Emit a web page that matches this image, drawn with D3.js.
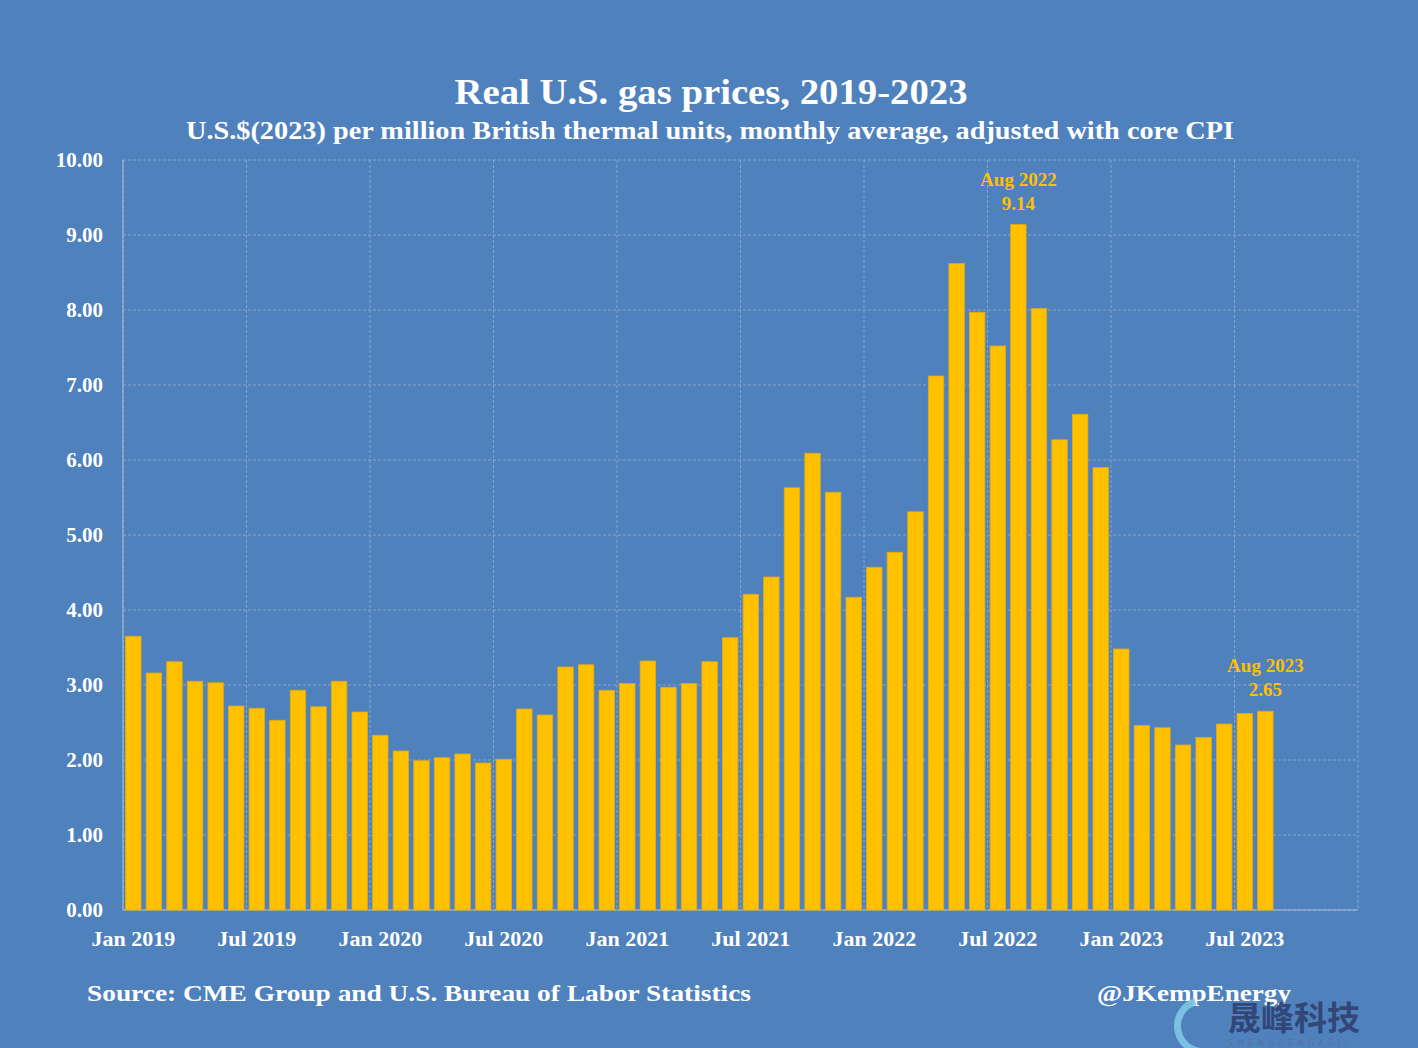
<!DOCTYPE html>
<html>
<head>
<meta charset="utf-8">
<script src="https://cdn.jsdelivr.net/npm/d3@7"></script>
<style>
  html, body { margin: 0; padding: 0; background: #4F81BD; }
  svg { display: block; }
</style>
</head>
<body>
<svg id="chart" width="1418" height="1048"></svg>
<script>
// ---- data ----
const months = [];
const monthNames = ["Jan","Feb","Mar","Apr","May","Jun","Jul","Aug","Sep","Oct","Nov","Dec"];
const years = [2019, 2020, 2021, 2022, 2023];
years.forEach(y => monthNames.forEach(m => months.push(m + " " + y)));

const prices = [
  3.65, 3.16, 3.31, 3.05, 3.03, 2.72, 2.69, 2.53, 2.93, 2.71, 3.05, 2.64,
  2.33, 2.12, 1.99, 2.03, 2.08, 1.96, 2.01, 2.68, 2.60, 3.24, 3.27, 2.93,
  3.02, 3.32, 2.97, 3.02, 3.31, 3.63, 4.21, 4.44, 5.63, 6.09, 5.57, 4.17,
  4.57, 4.77, 5.31, 7.12, 8.62, 7.97, 7.52, 9.14, 8.02, 6.27, 6.61, 5.90,
  3.48, 2.46, 2.43, 2.20, 2.30, 2.48, 2.62, 2.65
];
const xTickLabels = ["Jan 2019","Jul 2019","Jan 2020","Jul 2020","Jan 2021","Jul 2021","Jan 2022","Jul 2022","Jan 2023","Jul 2023"];
const yTicks = [0,1,2,3,4,5,6,7,8,9,10];
const annotations = [
  { month: "Aug 2022", label: "Aug 2022", value: "9.14" },
  { month: "Aug 2023", label: "Aug 2023", value: "2.65" }
];
const titleText = "Real U.S. gas prices, 2019-2023";
const subtitleText = "U.S.$(2023) per million British thermal units, monthly average, adjusted with core CPI";
const sourceText = "Source: CME Group and U.S. Bureau of Labor Statistics";
const handleText = "@JKempEnergy";

// ---- layout ----
const svg = d3.select("#chart");
const W = 1418, H = 1048;
const m = { left: 123, right: 1358, top: 160, bottom: 910 };
const serif = "'Liberation Serif', 'DejaVu Serif', serif";
const gold = "#FFC000";

svg.append("rect").attr("width", W).attr("height", H).attr("fill", "#4F81BD");

const x = d3.scaleBand().domain(months).range([m.left, m.right]).paddingInner(0.25).paddingOuter(0.125);
const y = d3.scaleLinear().domain([0, 10]).range([m.bottom, m.top]);

// gridlines
const gridColor = "rgba(190,200,215,0.5)";
const g = svg.append("g");
g.selectAll("line.h").data(yTicks).join("line")
  .attr("x1", m.left).attr("x2", m.right)
  .attr("y1", d => y(d)).attr("y2", d => y(d))
  .attr("stroke", gridColor).attr("stroke-width", 1).attr("stroke-dasharray", "3,2");
const bandStart = d => m.left + months.indexOf(d) * (m.right - m.left) / months.length;
const vPos = months.filter((d, i) => i % 6 === 0).map(bandStart).concat([m.right]);
g.selectAll("line.v").data(vPos).join("line")
  .attr("x1", d => d).attr("x2", d => d)
  .attr("y1", m.top).attr("y2", m.bottom)
  .attr("stroke", gridColor).attr("stroke-width", 1).attr("stroke-dasharray", "3,2");

// axis lines
svg.append("line").attr("x1", m.left).attr("x2", m.left).attr("y1", m.top).attr("y2", m.bottom)
  .attr("stroke", "rgba(190,200,215,0.8)");
svg.append("line").attr("x1", m.left).attr("x2", m.right).attr("y1", m.bottom).attr("y2", m.bottom)
  .attr("stroke", "rgba(190,200,215,0.8)");

// bars
svg.append("g").selectAll("rect").data(prices).join("rect")
  .attr("x", (d, i) => x(months[i]))
  .attr("width", x.bandwidth())
  .attr("y", d => y(d))
  .attr("height", d => y(0) - y(d))
  .attr("fill", gold)
  .attr("stroke", "#E0AC10").attr("stroke-width", 0.8);

// y axis labels
const yAxis = d3.axisLeft(y).tickValues(yTicks).tickFormat(d3.format(".2f")).tickSize(0).tickPadding(20);
const ya = svg.append("g").attr("transform", `translate(${m.left},0)`).call(yAxis);
ya.select(".domain").remove();
ya.selectAll("text").attr("fill", "#fff").attr("font-family", serif).attr("font-weight", "bold")
  .attr("font-size", 21).attr("dy", "0.32em");

// x axis labels
const xAxis = d3.axisBottom(x).tickValues(xTickLabels).tickSize(0).tickPadding(20);
const xa = svg.append("g").attr("transform", `translate(0,${m.bottom})`).call(xAxis);
xa.select(".domain").remove();
xa.selectAll("text").attr("fill", "#fff").attr("font-family", serif).attr("font-weight", "bold")
  .attr("font-size", 22);

// titles
svg.append("text").attr("x", 711).attr("y", 104).attr("text-anchor", "middle")
  .attr("font-family", serif).attr("font-weight", "bold").attr("font-size", 36).attr("fill", "#fff")
  .attr("textLength", 513).attr("lengthAdjust", "spacingAndGlyphs")
  .text(titleText);
svg.append("text").attr("x", 710).attr("y", 139).attr("text-anchor", "middle")
  .attr("font-family", serif).attr("font-weight", "bold").attr("font-size", 25).attr("fill", "#fff")
  .attr("textLength", 1048).attr("lengthAdjust", "spacingAndGlyphs")
  .text(subtitleText);

// annotations
annotations.forEach(a => {
  const i = months.indexOf(a.month);
  const cx = x(a.month) + x.bandwidth() / 2;
  const top = y(prices[i]);
  svg.append("text").attr("x", cx).attr("y", top - 39).attr("text-anchor", "middle")
    .attr("font-family", serif).attr("font-weight", "bold").attr("font-size", 19).attr("fill", gold)
    .text(a.label);
  svg.append("text").attr("x", cx).attr("y", top - 15).attr("text-anchor", "middle")
    .attr("font-family", serif).attr("font-weight", "bold").attr("font-size", 19).attr("fill", gold)
    .text(a.value);
});

// footer
svg.append("text").attr("x", 87).attr("y", 1001)
  .attr("font-family", serif).attr("font-weight", "bold").attr("font-size", 23).attr("fill", "#fff")
  .attr("textLength", 664).attr("lengthAdjust", "spacingAndGlyphs")
  .text(sourceText);
svg.append("text").attr("x", 1097).attr("y", 1001)
  .attr("font-family", serif).attr("font-weight", "bold").attr("font-size", 23).attr("fill", "#fff")
  .attr("textLength", 194).attr("lengthAdjust", "spacingAndGlyphs")
  .text(handleText);

// watermark
const wm = svg.append("g").attr("opacity", 0.9);
wm.append("path")
  .attr("d", d3.arc()({ innerRadius: 22, outerRadius: 29, startAngle: -0.3, endAngle: -Math.PI * 0.95 }))
  .attr("transform", "translate(1203,1026)")
  .attr("fill", "#7ec8e8");
wm.append("text").attr("x", 1228).attr("y", 1030)
  .attr("font-family", "'Noto Sans CJK SC', sans-serif").attr("font-weight", "bold").attr("font-size", 33)
  .attr("fill", "#2f4170").text("晟峰科技");
wm.append("text").attr("x", 1228).attr("y", 1046)
  .attr("font-family", "'DejaVu Sans', sans-serif").attr("font-size", 8).attr("letter-spacing", 4.5)
  .attr("fill", "#5a6f9a").text("SHENGFENGKEJI");
</script>
</body>
</html>
